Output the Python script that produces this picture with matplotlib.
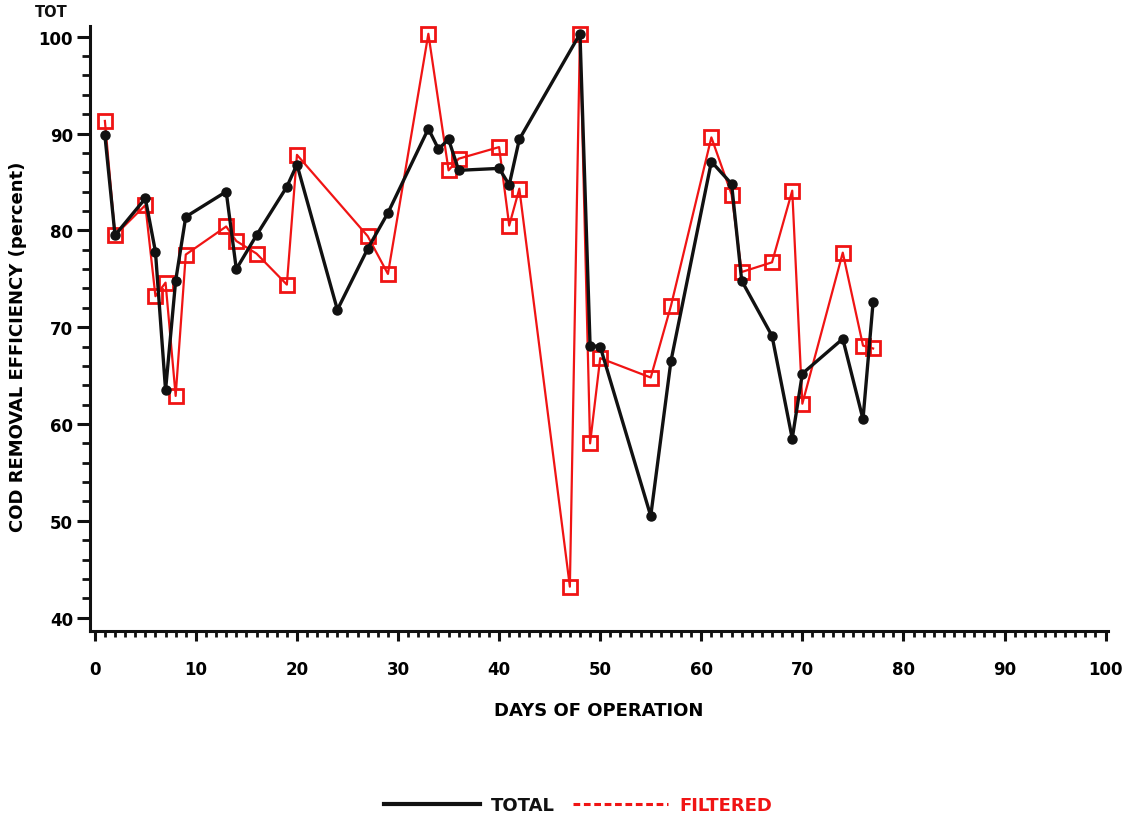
import matplotlib
matplotlib.use("Agg")
import matplotlib.pyplot as plt
from matplotlib.lines import Line2D
from matplotlib.ticker import MultipleLocator

# COD removal efficiency (percent) versus days of operation
total_days = [1, 2, 5, 6, 7, 8, 9, 13, 14, 16, 19, 20, 24, 27, 29, 33, 34, 35,
              36, 40, 41, 42, 48, 49, 50, 55, 57, 61, 63, 64, 67, 69, 70, 74,
              76, 77]
total_eff = [89.8, 79.5, 83.3, 77.8, 63.5, 74.8, 81.4, 84.0, 76.0, 79.5, 84.5,
             86.8, 71.8, 78.1, 81.8, 90.5, 88.4, 89.4, 86.2, 86.4, 84.7, 89.4,
             100.3, 68.1, 68.0, 50.5, 66.5, 87.1, 84.8, 74.8, 69.1, 58.5, 65.2,
             68.8, 60.5, 72.6]

filtered_days = [1, 2, 5, 6, 7, 8, 9, 13, 14, 16, 19, 20, 27, 29, 33, 35, 36,
                 40, 41, 42, 47, 48, 49, 50, 55, 57, 61, 63, 64, 67, 69, 70,
                 74, 76, 77]
filtered_eff = [91.3, 79.5, 82.6, 73.2, 74.6, 62.9, 77.5, 80.4, 78.9, 77.6,
                74.4, 87.8, 79.4, 75.5, 100.3, 86.2, 87.4, 88.6, 80.5, 84.3,
                43.2, 100.3, 58.0, 66.8, 64.8, 72.2, 89.6, 83.7, 75.7, 76.7,
                84.1, 62.1, 77.7, 68.1, 67.8]

x_ticks = [0, 10, 20, 30, 40, 50, 60, 70, 80, 90, 100]
y_ticks = [40, 50, 60, 70, 80, 90, 100]

BLACK = "#111111"
RED = "#f01414"

plt.rcParams["font.family"] = ["DejaVu Sans"]
plt.rcParams["font.weight"] = "bold"

fig = plt.figure(figsize=(11.36, 8.2), dpi=100)
ax = fig.add_axes([0.079, 0.229, 0.896, 0.738])

ax.plot(filtered_days, filtered_eff, color=RED, lw=1.6, marker="s",
        markersize=10, markerfacecolor="none", markeredgecolor=RED,
        markeredgewidth=2.0, zorder=2)
ax.plot(total_days, total_eff, color=BLACK, lw=2.4, marker="o",
        markersize=6.5, markerfacecolor=BLACK, markeredgecolor=BLACK,
        zorder=3)

ax.set_xlim(-0.5, 100.2)
ax.set_ylim(38.6, 101.1)

ax.set_xticks(x_ticks)
ax.set_yticks(y_ticks)
ax.xaxis.set_minor_locator(MultipleLocator(1))
ax.yaxis.set_minor_locator(MultipleLocator(2))

for side in ("top", "right"):
    ax.spines[side].set_visible(False)
for side in ("left", "bottom"):
    ax.spines[side].set_linewidth(2.2)
    ax.spines[side].set_color(BLACK)

ax.tick_params(axis="both", which="major", direction="out", width=2.2,
               color=BLACK, labelsize=12)
ax.tick_params(axis="x", which="major", length=7, pad=14)
ax.tick_params(axis="y", which="major", length=9.5, pad=2.5)
ax.tick_params(axis="x", which="minor", direction="out", length=4.5,
               width=2.0, color=BLACK)
ax.tick_params(axis="y", which="minor", direction="out", length=6, width=2.0,
               color=BLACK)
for lbl in ax.get_xticklabels() + ax.get_yticklabels():
    lbl.set_fontweight("bold")

ax.set_xlabel("DAYS OF OPERATION", fontsize=13, fontweight="bold",
              labelpad=16)
ax.set_ylabel("COD REMOVAL EFFICIENCY (percent)", fontsize=13,
              fontweight="bold")
ax.yaxis.set_label_coords(-0.062, 0.472)

fig.text(0.045, 0.985, "TOT", fontsize=10.5, fontweight="bold",
         ha="center", va="center", color=BLACK)

handles = [Line2D([], [], color=BLACK, lw=3),
           Line2D([], [], color=RED, lw=2.2, ls=(0, (2.2, 1.2)))]
fig.legend(handles, ["TOTAL", "FILTERED"], loc="center",
           bbox_to_anchor=(0.509, 0.017), ncol=2, frameon=False,
           handlelength=5.3, handletextpad=0.6, columnspacing=1.0,
           labelcolor=[BLACK, RED], prop={"weight": "bold", "size": 13})

fig.savefig("out.png", dpi=100, facecolor="white")
